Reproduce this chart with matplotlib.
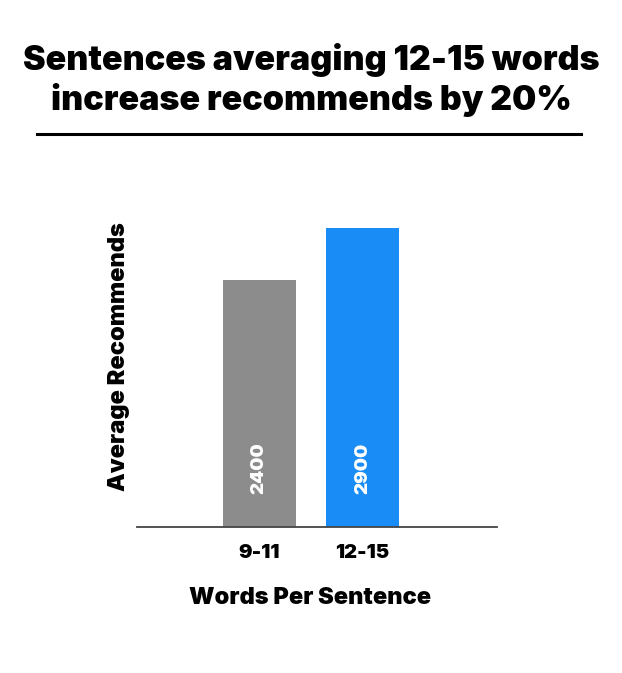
import matplotlib
matplotlib.use("Agg")
import matplotlib.pyplot as plt
from matplotlib.lines import Line2D

categories = ["9-11", "12-15"]
values = [2400, 2900]
colors = ["#8c8c8c", "#1a8cf5"]

title = "Sentences averaging 12-15 words\nincrease recommends by 20%"
font = "Inter"

fig = plt.figure(figsize=(6.22, 6.73), dpi=100)
ax = fig.add_axes([0.2203, 0.2169, 0.5788, 0.4596])

x = list(range(len(categories)))
ax.bar(x, values, width=0.705, color=colors)
for xi, v in zip(x, values):
    ax.text(xi, 570, str(v), rotation=90, ha="center", va="center",
            color="white", fontsize=13.5, fontweight="black", family=font)

ax.set_xlim(-1.18, 2.30)
ax.set_ylim(0, 3000)
ax.set_xticks(x)
ax.set_xticklabels(categories, fontsize=14.5, fontweight="black", family=font)
ax.tick_params(axis="x", length=0, pad=12)
ax.set_yticks([])
for s in ["top", "right", "left"]:
    ax.spines[s].set_visible(False)
ax.spines["bottom"].set_color("#444444")
ax.spines["bottom"].set_linewidth(1.3)

ax.set_ylabel("Average Recommends", fontsize=17, fontweight="black", family=font)
ax.yaxis.set_label_coords(-0.02, 0.55)
ax.set_xlabel("Words Per Sentence", fontsize=17, fontweight="black", family=font)
ax.xaxis.set_label_coords(0.48, -0.23)
ax.xaxis.label.set_va("center")

fig.text(0.5, 0.881, title, ha="center", va="center", fontsize=24.5,
         fontweight="black", family=font, linespacing=1.2)
fig.add_artist(Line2D([37 / 622, 581 / 622], [1 - 134 / 673, 1 - 134 / 673],
                      color="black", linewidth=2.2))

fig.savefig("out.png", dpi=100)
